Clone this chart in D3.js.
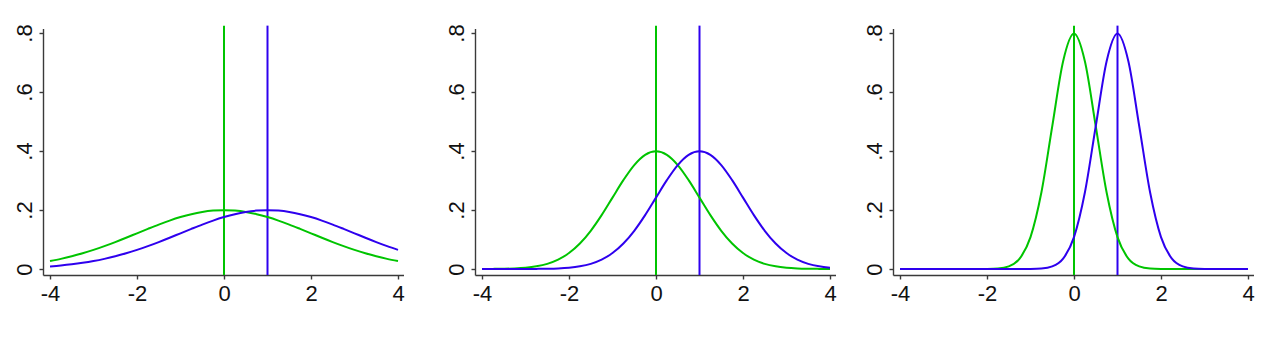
<!DOCTYPE html>
<html>
<head>
<meta charset="utf-8">
<script src="https://cdn.jsdelivr.net/npm/d3@7"></script>
<style>
  body { margin: 0; background: #fff; }
  svg { display: block; }
  .tick text { font-family: "Liberation Sans", Arial, sans-serif; }
</style>
</head>
<body>
<div id="chart"></div>
<script>
// shared x grid (step 0.25)
var xGrid = [-4,-3.75,-3.5,-3.25,-3,-2.75,-2.5,-2.25,-2,-1.75,-1.5,-1.25,-1,-0.75,-0.5,-0.25,
             0,0.25,0.5,0.75,1,1.25,1.5,1.75,2,2.25,2.5,2.75,3,3.25,3.5,3.75,4];

// panel 1 (wide curves)
var green1 = [0.0270,0.0344,0.0431,0.0533,0.0648,0.0775,0.0913,0.1059,0.1210,0.1360,0.1506,0.1641,0.1760,0.1859,0.1933,0.1979,
              0.1995,0.1979,0.1933,0.1859,0.1760,0.1641,0.1506,0.1360,0.1210,0.1059,0.0913,0.0775,0.0648,0.0533,0.0431,0.0344,0.0270];
var blue1  = [0.0088,0.0119,0.0159,0.0209,0.0270,0.0344,0.0431,0.0533,0.0648,0.0775,0.0913,0.1059,0.1210,0.1360,0.1506,0.1641,
              0.1760,0.1859,0.1933,0.1979,0.1995,0.1979,0.1933,0.1859,0.1760,0.1641,0.1506,0.1360,0.1210,0.1059,0.0913,0.0775,0.0648];

// panel 2
var green2 = [0.0001,0.0004,0.0009,0.0020,0.0044,0.0091,0.0175,0.0317,0.0540,0.0863,0.1295,0.1826,0.2420,0.3011,0.3521,0.3867,
              0.3989,0.3867,0.3521,0.3011,0.2420,0.1826,0.1295,0.0863,0.0540,0.0317,0.0175,0.0091,0.0044,0.0020,0.0009,0.0004,0.0001];
var blue2  = [0,0,0,0,0.0001,0.0004,0.0009,0.0020,0.0044,0.0091,0.0175,0.0317,0.0540,0.0863,0.1295,0.1826,
              0.2420,0.3011,0.3521,0.3867,0.3989,0.3867,0.3521,0.3011,0.2420,0.1826,0.1295,0.0863,0.0540,0.0317,0.0175,0.0091,0.0044];

// panel 3 (narrow curves)
var green3 = [0,0,0,0,0,0,0,0,0.0003,0.0017,0.0089,0.0350,0.1080,0.2591,0.4839,0.7041,
              0.7979,0.7041,0.4839,0.2591,0.1080,0.0350,0.0089,0.0017,0.0003,0,0,0,0,0,0,0,0];
var blue3  = [0,0,0,0,0,0,0,0,0,0,0,0,0.0003,0.0017,0.0089,0.0350,
              0.1080,0.2591,0.4839,0.7041,0.7979,0.7041,0.4839,0.2591,0.1080,0.0350,0.0089,0.0017,0.0003,0,0,0,0];

var xTicks = [-4,-2,0,2,4];
var yTicks = [0,0.2,0.4,0.6,0.8];
var yTickLabels = ["0",".2",".4",".6",".8"];
var meanLines = [0, 1];   // green mean, blue mean
var lineTop = 0.825;

var panels = [
  {green: green1, blue: blue1, left: 50},
  {green: green2, blue: blue2, left: 482},
  {green: green3, blue: blue3, left: 900}
];

var greenCol = "#00c400", blueCol = "#2e00ee", axisCol = "#3a3a3a";

var svg = d3.select("#chart").append("svg")
  .attr("width", 1280).attr("height", 338);

panels.forEach(function(p) {
  var x = d3.scaleLinear().domain([-4, 4]).range([p.left, p.left + 348]);
  var y = d3.scaleLinear().domain([0, 0.8]).range([269, 33]);
  var g = svg.append("g");

  // x axis (offset below plot)
  var xa = g.append("g")
    .attr("transform", "translate(0,275.5)")
    .call(d3.axisBottom(x).tickValues(xTicks).tickSize(4).tickSizeOuter(0).tickPadding(5)
      .tickFormat(function(d){ return d < 0 ? "-" + Math.abs(d) : d; }));
  xa.select(".domain").attr("d", "M" + (p.left - 6.5) + ",0H" + (p.left + 354));
  xa.selectAll("line, .domain").attr("stroke", axisCol).attr("stroke-width", 1.4);
  xa.selectAll("text").attr("font-size", 22).attr("fill", "#111").attr("dy", "0.75em");

  // y axis, rotated labels
  var ya = g.append("g")
    .attr("transform", "translate(" + (p.left - 6.5) + ",0)")
    .call(d3.axisLeft(y).tickValues(yTicks).tickSize(4).tickSizeOuter(0)
      .tickFormat(function(d, i){ return yTickLabels[i]; }));
  ya.select(".domain").attr("d", "M0,29V275.5");
  ya.selectAll("line, .domain").attr("stroke", axisCol).attr("stroke-width", 1.4);
  ya.selectAll("text")
    .attr("font-size", 22).attr("fill", "#111")
    .attr("text-anchor", "middle")
    .attr("x", 0).attr("dy", 0)
    .attr("transform", "translate(-19,0) rotate(-90)")
    .attr("dominant-baseline", "central");

  var line = d3.line()
    .x(function(d, i){ return x(xGrid[i]); })
    .y(function(d){ return y(d); })
    .curve(d3.curveMonotoneX);

  // vertical mean lines
  g.append("line")
    .attr("x1", x(meanLines[0])).attr("x2", x(meanLines[0]))
    .attr("y1", y(lineTop)).attr("y2", 275)
    .attr("stroke", greenCol).attr("stroke-width", 2);
  g.append("line")
    .attr("x1", x(meanLines[1])).attr("x2", x(meanLines[1]))
    .attr("y1", y(lineTop)).attr("y2", 275)
    .attr("stroke", blueCol).attr("stroke-width", 2);

  g.append("path").datum(p.green)
    .attr("d", line).attr("fill", "none")
    .attr("stroke", greenCol).attr("stroke-width", 2);
  g.append("path").datum(p.blue)
    .attr("d", line).attr("fill", "none")
    .attr("stroke", blueCol).attr("stroke-width", 2);
});
</script>
</body>
</html>
